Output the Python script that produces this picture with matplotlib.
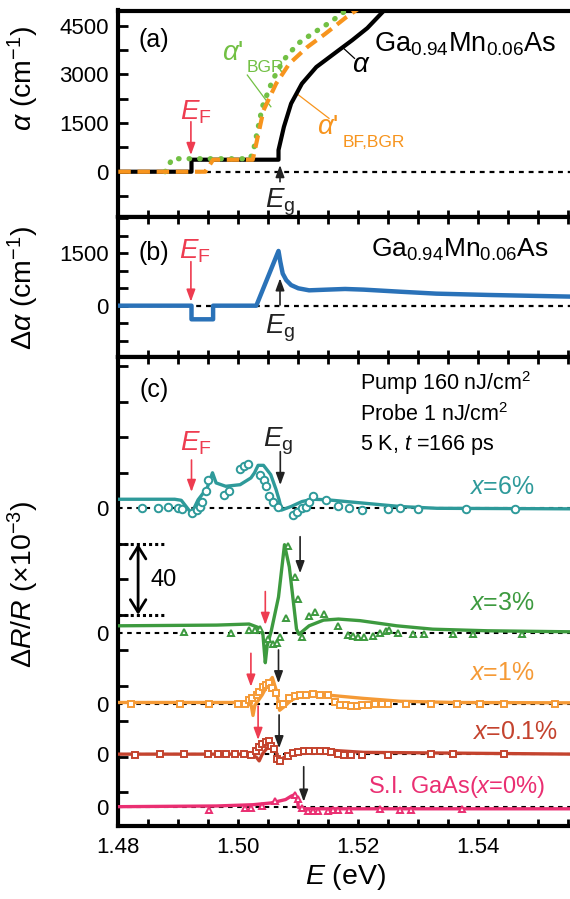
import matplotlib
matplotlib.use("Agg")
import matplotlib.pyplot as plt
from matplotlib.ticker import MultipleLocator, FixedLocator

plt.rcParams['font.family'] = ['Liberation Sans', 'DejaVu Sans']
plt.rcParams['mathtext.fontset'] = 'custom'
plt.rcParams['mathtext.rm'] = 'Liberation Sans'
plt.rcParams['mathtext.it'] = 'Liberation Sans:italic'
plt.rcParams['mathtext.bf'] = 'Liberation Sans:bold'

# ---------------- data: panel (a) absorption ----------------
E_alpha = [1.48, 1.4922, 1.4922, 1.5067, 1.5067, 1.5076, 1.5088, 1.5106, 1.5130, 1.5167, 1.5190, 1.5215, 1.5243, 1.5270]
alpha = [0, 0, 370, 370, 665, 1381, 2097, 2711, 3222, 3734, 4050, 4420, 4962, 5400]
E_bfbgr = [1.48, 1.4945, 1.4958, 1.5024, 1.5030, 1.5042, 1.5063, 1.5085, 1.5115, 1.5145, 1.5180, 1.5200, 1.5215]
alpha_bfbgr = [0, 0, 370, 370, 870, 1890, 2710, 3325, 3836, 4245, 4757, 5013, 5200]
E_bgr = [1.4878, 1.4890, 1.5020, 1.5026, 1.5040, 1.5057, 1.5075, 1.5099, 1.5123, 1.5153, 1.5183, 1.5198]
alpha_bgr = [0, 400, 400, 716, 1995, 2813, 3427, 3939, 4245, 4600, 5013, 5200]

# ---------------- data: panel (b) differential absorption ----------------
E_dalpha = [1.48, 1.4922, 1.4922, 1.4958, 1.4958, 1.5030, 1.5067, 1.5070, 1.5074, 1.5080, 1.5088,
            1.5100, 1.5118, 1.5148, 1.5178, 1.5209, 1.5270, 1.5330, 1.5418, 1.5560]
dalpha = [0, 0, -390, -390, 0, 0, 1568, 1260, 920, 730, 590, 498, 440, 460, 479, 460, 400, 345, 307, 258]

# ---------------- data: panel (c) dR/R (x1e-3), fits and measured points ----------------
E6_fit = [1.48, 1.4894, 1.4905, 1.4922, 1.4933, 1.4948, 1.4957, 1.4963, 1.4979, 1.5003, 1.5021, 1.5027,
          1.5033, 1.5042, 1.5054, 1.5063, 1.5068, 1.5072, 1.5088, 1.5106, 1.5124, 1.5148, 1.5209, 1.5270,
          1.5331, 1.5560]
R6_fit = [5.1, 5.1, 4.5, -2.9, 4.8, 11.4, 20, 14.3, 12.4, 13.3, 17.1, 20, 24.2, 24.2, 19, 10.5, 4.8, -1,
          1, 3.8, 5.1, 4.8, 2.9, 1, 0, -0.3]
E6_pts = [1.48397, 1.48670, 1.48833, 1.49003, 1.49064, 1.49227, 1.49306, 1.49367, 1.49397, 1.49458,
          1.49488, 1.49761, 1.4984, 1.50033, 1.50094, 1.50155, 1.50367, 1.50427, 1.50458, 1.50506,
          1.50579, 1.5067, 1.50912, 1.50973, 1.51064, 1.51125, 1.51185, 1.51246, 1.51458, 1.5167,
          1.51852, 1.52064, 1.52488, 1.527, 1.52991, 1.53791, 1.54609]
R6_pts = [0, 0, 0.6, 0, -0.6, -2.5, -1, 1, 3.8, 9.5, 16.2, 7.6, 9.5, 21.9, 23.8, 24.8, 19, 16.2, 12.4,
          6.7, 3.8, 1, -3.8, -1.9, 0, 1, 3.8, 6.7, 4.8, 1.3, 0, -1, -0.6, 0, -0.4, -0.4, -0.4]

E3_fit = [1.48, 1.4964, 1.5018, 1.5033, 1.5041, 1.5045, 1.5048, 1.5055, 1.5067, 1.5077, 1.5085, 1.5092,
          1.5097, 1.5101, 1.5118, 1.5142, 1.5167, 1.5203, 1.5264, 1.5324, 1.5415, 1.5560]
R3_fit = [3.8, 4.2, 4.8, 2.9, -1, -17, -7.6, 1, 20, 49.5, 37, 16.7, 2, -1, 3.8, 7, 7.6, 6.7, 3.8, 1.9, 1, 0.4]
E3_pts = [1.49094, 1.49882, 1.50185, 1.50276, 1.50367, 1.50488, 1.50579, 1.5064, 1.507, 1.50791,
          1.50821, 1.50942, 1.51003, 1.51064, 1.51185, 1.51276, 1.51427, 1.5167, 1.51821, 1.51912,
          1.52003, 1.52094, 1.52245, 1.52367, 1.52458, 1.52518, 1.5267, 1.52912, 1.53094, 1.53579,
          1.53912, 1.5473]
R3_pts = [0.4, 0, 1.3, 1.5, 1.9, -3.8, -6.7, -5.7, -2.5, 8.2, 48.6, 31.4, 19, -2.5, 9.5, 11.4, 10.5,
          3.8, -1.3, -1.9, -2.5, -2.5, -1.9, 0, 1, 1.3, 0, -1, -1, -0.6, -0.6, -0.6]

E1_fit = [1.48, 1.5010, 1.50215, 1.50245, 1.50276, 1.50397, 1.50518, 1.50567, 1.5064, 1.50688, 1.5076,
          1.50882, 1.51064, 1.51246, 1.5148, 1.5209, 1.527, 1.5361, 1.5560]
R1_fit = [0.6, 0.6, -1, -6.7, -1, 4.8, 12.4, 14.7, 6.7, -3.8, -1.9, 1.9, 4.8, 5.7, 4.8, 2.9, 1.3, 0.6, 0.4]
E1_pts = [1.48215, 1.49033, 1.49518, 1.50003, 1.50106, 1.50185, 1.50233, 1.50306, 1.50348, 1.50409,
          1.50458, 1.50506, 1.50567, 1.50627, 1.50688, 1.50748, 1.50852, 1.50942, 1.51033, 1.51125,
          1.51246, 1.51367, 1.51488, 1.51609, 1.517, 1.51791, 1.51882, 1.51973, 1.52064, 1.52155,
          1.52276, 1.52397, 1.52488, 1.52791, 1.53215, 1.5364, 1.54033, 1.54427, 1.55276]
R1_pts = [0, 0, 0, 0, 0, 1.9, 3.2, 4.8, 6.7, 9.5, 10.5, 11.4, 8.6, 5.7, -1, 0, 2.9, 4.4, 4.8, 4.8,
          5.1, 4.8, 4.8, 1, -0.6, -1, -1.3, -1.3, -1, -0.6, 0, 0, 0, 0, 0, 0, 0, 0, 0]

E01_fit = [1.48, 1.5020, 1.50306, 1.50348, 1.5040, 1.50488, 1.50548, 1.50627, 1.50673, 1.5076,
           1.50882, 1.51185, 1.51488, 1.5209, 1.5560]
R01_fit = [0, 0, -1.9, -3.8, 0, 3.8, 5.7, 1.9, -3.8, -1.9, 0.4, 1.9, 2.3, 1, 0]
E01_pts = [1.48276, 1.487, 1.49094, 1.49488, 1.4967, 1.49791, 1.49942, 1.50094, 1.50215, 1.50294,
           1.50348, 1.50397, 1.50458, 1.50506, 1.50548, 1.50591, 1.50652, 1.507, 1.50821, 1.50912,
           1.51003, 1.51094, 1.51185, 1.51276, 1.51367, 1.51458, 1.51548, 1.5167, 1.5176, 1.51882,
           1.52064, 1.52488, 1.53215, 1.53579, 1.54427]
R01_pts = [-0.6, 0, 0, 0, 0, 0, 0, 0, -0.6, 1.9, 3.8, 5.7, 6.7, 7.6, 4.8, 2.9, -2.9, -3.8, -1, 0.4,
           1, 1.5, 1.9, 1.9, 1.5, 1.5, 1, 0, -0.4, -0.6, -0.6, -0.6, 0, 0, 0]

E0_fit = [1.48, 1.4964, 1.50243, 1.50545, 1.50788, 1.50879, 1.5094, 1.5099, 1.5100, 1.5115, 1.5560]
R0_fit = [0.4, 0.8, 1.5, 2.5, 4.4, 6.3, 7.2, 3.4, 0, -0.8, -0.8]
E0_pts = [1.49518, 1.50106, 1.50215, 1.50397, 1.50609, 1.50942, 1.51003, 1.51064, 1.51155, 1.51246,
          1.51336, 1.51488, 1.51579, 1.5167, 1.51852, 1.52367, 1.527, 1.52882, 1.5373]
R0_pts = [-1.3, -0.4, -0.4, 0.6, 3.8, 6.7, 4.8, -0.4, -2.3, -2.3, -1.9, -1.9, -1.3, -1.3, -1.3, -0.8,
          -1.3, -1.3, -0.8]

offsets = [0, -70, -110, -138.5, -168.5]          # vertical offsets of the spectra
E_F_pos = [1.4922, 1.5045, 1.5021, 1.5033]        # red arrows (x=6,3,1,0.1 %)
E_g_pos = [1.5070, 1.5103, 1.5067, 1.5068, 1.5109]  # black arrows

# colours
C_RED = '#ee3c50'
C_BGR = '#72c044'
C_ORG = '#f7941d'
C_BLUE = '#2a72b8'
C_TEAL = '#2e9a9a'
C_GRN = '#3d9a3f'
C_ORG2 = '#f59a36'
C_BRN = '#c4432e'
C_PINK = '#ea2f72'

W_PX, H_PX = 570, 899
fig = plt.figure(figsize=(W_PX / 100, H_PX / 100), dpi=100)
L = 118.3 / W_PX
W = (572 - 118.3) / W_PX
XMAX = 1.48 + (572 - 118.3) / 6000


def ax_at(top, bottom):
    return fig.add_axes([L, 1 - bottom / H_PX, W, (bottom - top) / H_PX])


ax_a = ax_at(10.5, 216.5)
ax_b = ax_at(216.5, 357)
ax_c = ax_at(357, 825.5)

TICK_FS = 16
LAB_FS = 20.5
LAB_X = -0.170
for ax in (ax_a, ax_b, ax_c):
    ax.set_xlim(1.48, XMAX)
    for s in ax.spines.values():
        s.set_linewidth(3)
    ax.xaxis.set_major_locator(MultipleLocator(0.02))
    ax.xaxis.set_minor_locator(MultipleLocator(0.005))
    ax.tick_params(axis='both', which='both', direction='in', width=2, labelsize=TICK_FS)
    ax.tick_params(axis='x', which='both', length=5, top=True, bottom=True, pad=8)
    ax.tick_params(axis='y', which='both', length=7, pad=7)

ax_a.tick_params(axis='x', which='both', top=False, labelbottom=False)
ax_b.tick_params(axis='x', which='both', labelbottom=False)

# ---------------- (a) ----------------
ax_a.set_ylim(-1378, 4962)
ax_a.yaxis.set_major_locator(FixedLocator([0, 1500, 3000, 4500]))
ax_a.yaxis.set_minor_locator(FixedLocator([-750, 750, 2250, 3750]))
ax_a.axhline(0, color='black', lw=1.6, ls=(0, (2.2, 2.2)), zorder=1)
ax_a.plot(E_alpha, alpha, color='black', lw=3, zorder=3, solid_capstyle='butt')
ax_a.plot(E_bgr, alpha_bgr, color=C_BGR, lw=3.8, ls=(0, (0.1, 1.9)), dash_capstyle='round', zorder=4)
ax_a.plot(E_bfbgr, alpha_bfbgr, color=C_ORG, lw=3, ls=(0, (3.0, 1.6)), zorder=5)
ax_a.set_ylabel(r'$\alpha$ (cm$^{-1}$)', fontsize=LAB_FS)
ax_a.yaxis.set_label_coords(LAB_X, 0.672)

ax_a.text(1.48595, 4052, '(a)', fontsize=18, ha='center', va='center')
ax_a.text(1.5227, 3692, r'Ga$_{0.94}$Mn$_{0.06}$As', fontsize=19.5, ha='left', va='baseline')
ax_a.text(1.52043, 3283, r'$\alpha$', fontsize=20, ha='center', va='center')
ax_a.plot([1.51937, 1.51755], [3489, 3797], color='black', lw=0.9)
ax_a.text(1.49915, 3645, r"$\alpha$'", fontsize=20, color=C_BGR, ha='center', va='center')
ax_a.text(1.50445, 3222, 'BGR', fontsize=12.5, color=C_BGR, ha='center', va='center')
ax_a.plot([1.5015, 1.50543], [2975, 2000], color=C_BGR, lw=0.9)
ax_a.text(1.51495, 1375, r"$\alpha$'", fontsize=20, color=C_ORG, ha='center', va='center')
ax_a.text(1.52262, 910, 'BF,BGR', fontsize=12.5, color=C_ORG, ha='center', va='center')
ax_a.plot([1.51512, 1.50968], [1643, 2412], color=C_ORG, lw=0.9)


def varrow(ax, x, y0, y1, color, lw=1.2):
    ax.annotate('', xy=(x, y1), xytext=(x, y0),
                arrowprops=dict(arrowstyle='-|>,head_length=0.6,head_width=0.22', color=color,
                                lw=lw, shrinkA=0, shrinkB=0, mutation_scale=12), zorder=6)


varrow(ax_a, 1.4921, 1538, 514, C_RED)
ax_a.text(1.49295, 1837, r'$E_\mathrm{F}$', fontsize=20, color=C_RED, ha='center', va='center')
varrow(ax_a, 1.50695, -308, 206, '#222222')
ax_a.text(1.50695, -935, r'$E_\mathrm{g}$', fontsize=20, color='#222222', ha='center', va='center')

# ---------------- (b) ----------------
ax_b.set_ylim(-1470, 2555)
ax_b.yaxis.set_major_locator(FixedLocator([0, 1500]))
ax_b.yaxis.set_minor_locator(FixedLocator([-1000, -500, 500, 1000, 2000, 2500]))
ax_b.axhline(0, color='black', lw=1.6, ls=(0, (2.2, 2.2)), zorder=1)
ax_b.plot(E_dalpha, dalpha, color=C_BLUE, lw=3.2, zorder=3)
ax_b.set_ylabel(r'$\Delta\alpha$ (cm$^{-1}$)', fontsize=LAB_FS)
ax_b.yaxis.set_label_coords(LAB_X, 0.491)
ax_b.text(1.48595, 1510, '(b)', fontsize=18, ha='center', va='center')
ax_b.text(1.52212, 1404, r'Ga$_{0.94}$Mn$_{0.06}$As', fontsize=19, ha='left', va='baseline')
varrow(ax_b, 1.4921, 1261, 115, C_RED)
ax_b.text(1.49278, 1568, r'$E_\mathrm{F}$', fontsize=20, color=C_RED, ha='center', va='center')
varrow(ax_b, 1.50695, 20, 785, '#222222')
ax_b.text(1.50695, -640, r'$E_\mathrm{g}$', fontsize=20, color='#222222', ha='center', va='center')

# ---------------- (c) ----------------
ax_c.set_ylim((508.3 - 825.5) / 1.775, (508.3 - 357) / 1.775)
ax_c.yaxis.set_major_locator(FixedLocator(offsets))
ax_c.yaxis.set_major_formatter(plt.FixedFormatter(['0'] * len(offsets)))
ax_c.yaxis.set_minor_locator(FixedLocator([v for v in range(-160, 81, 20) if v != 0]))
ax_c.tick_params(axis='y', which='major', length=0)
ax_c.tick_params(axis='y', which='minor', length=7)
ax_c.set_ylabel(r'$\Delta R/R$ ($\times$10$^{-3}$)', fontsize=LAB_FS)
ax_c.yaxis.set_label_coords(LAB_X, 0.515)
ax_c.set_xlabel(r'$E$ (eV)', fontsize=LAB_FS, labelpad=3)
ax_c.set_xticks([1.48, 1.50, 1.52, 1.54])
ax_c.set_xticklabels(['1.48', '1.50', '1.52', '1.54'])

series = [
    (E6_fit, R6_fit, E6_pts, R6_pts, C_TEAL, 'o', 5.4),
    (E3_fit, R3_fit, E3_pts, R3_pts, C_GRN, '^', 5.0),
    (E1_fit, R1_fit, E1_pts, R1_pts, C_ORG2, 's', 4.8),
    (E01_fit, R01_fit, E01_pts, R01_pts, C_BRN, 's', 4.8),
    (E0_fit, R0_fit, E0_pts, R0_pts, C_PINK, '^', 5.0),
]
for (ef, rf, ep, rp, col, mk, ms), off in zip(series, offsets):
    ax_c.axhline(off, color='black', lw=1.5, ls=(0, (2.2, 2.2)), zorder=1)
    ax_c.plot(ef, [v + off for v in rf], color=col, lw=2.4, zorder=3)
    ax_c.plot(ep, [v + off for v in rp], ls='none', marker=mk, ms=ms, mfc='white', mec=col,
              mew=1.4, zorder=4)

# arrows
varrow(ax_c, E_F_pos[0], 27.2, 9.2, C_RED)
varrow(ax_c, E_g_pos[0], 31.9, 13.1, '#222222')
varrow(ax_c, E_F_pos[1], -46.9, -65.7, C_RED)
varrow(ax_c, E_g_pos[1], -16, -36.6, '#222222')
varrow(ax_c, E_F_pos[2], -81.7, -100.5, C_RED)
varrow(ax_c, E_g_pos[2], -79.8, -98.6, '#222222')
varrow(ax_c, E_F_pos[3], -111.4, -130.5, C_RED)
varrow(ax_c, E_g_pos[3], -116.4, -135.2, '#222222')
varrow(ax_c, E_g_pos[4], -145.6, -165.3, '#222222')

ax_c.text(1.4930, 36.8, r'$E_\mathrm{F}$', fontsize=20, color=C_RED, ha='center', va='center')
ax_c.text(1.5066, 37.5, r'$E_\mathrm{g}$', fontsize=20, color='#222222', ha='center', va='center')

ax_c.text(1.4860, 66.6, '(c)', fontsize=18, ha='center', va='center')
ax_c.text(1.52028, 70.4, r'Pump 160 nJ/cm$^2$', fontsize=15.5, ha='left', va='center')
ax_c.text(1.52028, 52.6, r'Probe 1 nJ/cm$^2$', fontsize=15.5, ha='left', va='center')
ax_c.text(1.52028, 35.7, r'5 K, $t$ =166 ps', fontsize=15.5, ha='left', va='center')

ax_c.text(1.54937, 12.2, r'$x$=6%', fontsize=18, color=C_TEAL, ha='right', va='center')
ax_c.text(1.54937, -53.5, r'$x$=3%', fontsize=18, color=C_GRN, ha='right', va='center')
ax_c.text(1.54937, -93.0, r'$x$=1%', fontsize=18, color=C_ORG2, ha='right', va='center')
ax_c.text(1.55329, -125.9, r'$x$=0.1%', fontsize=18, color=C_BRN, ha='right', va='center')
ax_c.text(1.5512, -156.8, r'S.I. GaAs($x$=0%)', fontsize=17, color=C_PINK, ha='right', va='center')

# scale bar (40 x 1e-3)
for yy in (-20, -60):
    ax_c.plot([1.4800, 1.48785], [yy, yy], color='black', lw=2.2, ls=(0, (1.0, 1.0)), zorder=2)
ax_c.annotate('', xy=(1.4833, -20), xytext=(1.4833, -60),
              arrowprops=dict(arrowstyle='<->,head_length=0.45,head_width=0.28', color='black',
                              lw=2, shrinkA=0, shrinkB=0, mutation_scale=20))
ax_c.text(1.48545, -40.3, '40', fontsize=17, ha='left', va='center')

fig.savefig('out.png', dpi=100)
